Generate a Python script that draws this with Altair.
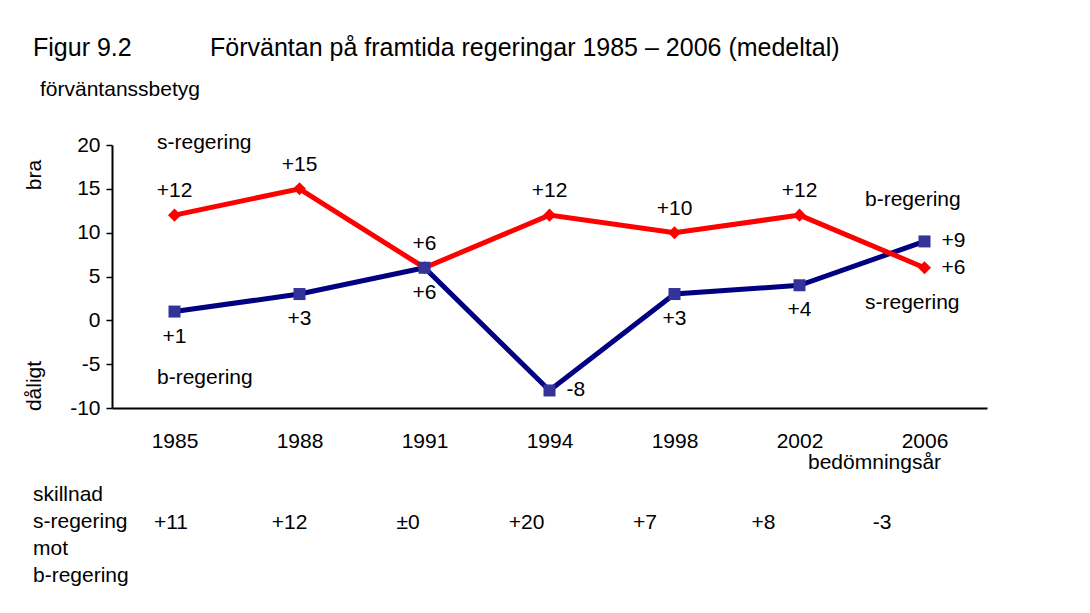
import altair as alt
import pandas as pd

# ---------------- data ----------------
years = ["1985", "1988", "1991", "1994", "1998", "2002", "2006"]
s_values = [12, 15, 6, 12, 10, 12, 6]
b_values = [1, 3, 6, -8, 3, 4, 9]
s_labels = ["+12", "+15", "+6", "+12", "+10", "+12", "+6"]
b_labels = ["+1", "+3", "+6", "-8", "+3", "+4", "+9"]
s_label_side = ["above", "above", "above", "above", "above", "above", "right"]
b_label_side = ["below", "below", "below", "right", "below", "below", "right"]
diff_labels = ["+11", "+12", "±0", "+20", "+7", "+8", "-3"]
y_ticks = [-10, -5, 0, 5, 10, 15, 20]

title_left = "Figur 9.2"
title_main = "Förväntan på framtida regeringar 1985 – 2006 (medeltal)"
y_title = "förväntanssbetyg"
x_title = "bedömningsår"
table_rows = "skillnad\ns-regering\nmot\nb-regering"

FONT = "Liberation Sans"
FS = 21

rows = []
for i, yr in enumerate(years):
    rows.append(dict(year=yr, series="s-regering", value=s_values[i],
                     label=s_labels[i], side=s_label_side[i]))
    rows.append(dict(year=yr, series="b-regering", value=b_values[i],
                     label=b_labels[i], side=b_label_side[i]))
df = pd.DataFrame(rows)
diff_df = pd.DataFrame(dict(year=years, diff=diff_labels))

# ---------------- encodings ----------------
x_enc = alt.X(
    "year:O", sort=years,
    scale=alt.Scale(type="point", padding=0.5),
    axis=alt.Axis(title=None, ticks=False, labelAngle=0, labelFontSize=FS,
                  labelPadding=22, domainWidth=2, domainColor="black",
                  labelColor="black", labelFont=FONT),
)
y_enc = alt.Y(
    "value:Q",
    scale=alt.Scale(domain=[-10, 20], nice=False, zero=False),
    axis=alt.Axis(title=None, values=y_ticks, tickSize=6, tickWidth=1.5,
                  tickColor="black", domainWidth=2, domainColor="black",
                  labelFontSize=FS, labelPadding=6, labelColor="black",
                  labelExpr="'' + datum.value",
                  grid=False, labelFont=FONT),
)

base = alt.Chart(df).encode(x=x_enc, y=y_enc)
is_s = alt.datum.series == "s-regering"
is_b = alt.datum.series == "b-regering"

blue_line = base.transform_filter(is_b).mark_line(color="#000080", strokeWidth=5)
red_line = base.transform_filter(is_s).mark_line(color="#FF0000", strokeWidth=5)
red_pts = base.transform_filter(is_s).mark_point(
    shape="diamond", filled=True, size=170, color="#FF0000", opacity=1)
blue_pts = base.transform_filter(is_b).mark_point(
    shape="square", filled=True, size=144, color="#333399", opacity=1)

txt = dict(font=FONT, fontSize=FS, color="black", baseline="middle")
lab_above = base.transform_filter(alt.datum.side == "above").mark_text(
    dy=-24, **txt).encode(text="label:N")
lab_below = base.transform_filter(alt.datum.side == "below").mark_text(
    dy=25, **txt).encode(text="label:N")
lab_right = base.transform_filter(alt.datum.side == "right").mark_text(
    dx=17, align="left", **txt).encode(text="label:N")

main = alt.layer(blue_line, red_line, red_pts, blue_pts,
                 lab_above, lab_below, lab_right)

table = alt.Chart(diff_df).mark_text(**txt).encode(
    x=alt.X("year:O", sort=years,
            scale=alt.Scale(type="point", range=[59, 770], padding=0),
            axis=None),
    y=alt.value(378),
    text="diff:N",
)


def note(text, x, y, size=FS, angle=0, align="left", line_height=None):
    kw = dict(align=align, baseline="middle", fontSize=size, font=FONT,
              color="black", angle=angle)
    if line_height is not None:
        kw["lineHeight"] = line_height
        kw["lineBreak"] = "\n"
    return alt.Chart(pd.DataFrame({"t": [text]})).mark_text(**kw).encode(
        x=alt.value(x), y=alt.value(y), text="t:N")


notes = [
    note(title_left, -79, -97, size=25),
    note(title_main, 98, -97, size=25),
    note(y_title, -72, -55),
    note("s-regering", 45, -2),
    note("b-regering", 45, 233),
    note("b-regering", 753, 55),
    note("s-regering", 753, 158),
    note(x_title, 696, 318),
    note("bra", -77, 30, angle=270, align="center"),
    note("dåligt", -77, 241, angle=270, align="center"),
    note(table_rows, -79, 350, line_height=27),
]

chart = alt.layer(main, table, *notes).resolve_scale(x="independent").properties(
    width=875,
    height=263,
    autosize=alt.AutoSizeParams(type="none"),
    padding={"left": 104, "top": 137, "right": 90, "bottom": 190},
).configure(font=FONT).configure_view(stroke=None)

chart.save("out.html", embed_options={"renderer": "svg", "actions": False})
